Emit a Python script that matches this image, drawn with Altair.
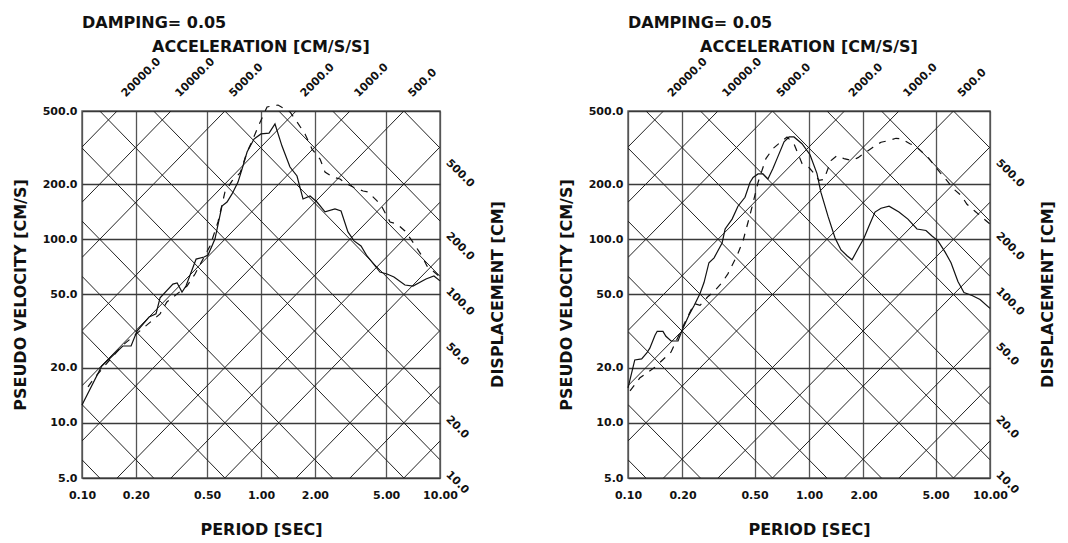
import math
import altair as alt
import pandas as pd

# ---------------- data ----------------
# Left panel: response spectrum (solid) and smoothed / target spectrum (dashed)
left_solid_T = [0.100, 0.129, 0.169, 0.188, 0.203, 0.237, 0.259, 0.273, 0.322, 0.340,
                0.362, 0.381, 0.434, 0.481, 0.506, 0.553, 0.605, 0.646, 0.689, 0.744,
                0.793, 0.836, 0.914, 1.000, 1.109, 1.197, 1.310, 1.452, 1.589, 1.717,
                1.879, 2.055, 2.278, 2.590, 2.800, 3.060, 3.310, 3.620, 3.910, 4.340,
                4.620, 5.060, 5.530, 6.370, 7.060, 8.350, 9.250, 10.0]
left_solid_V = [12.5, 20.4, 26.2, 26.2, 31.6, 37.7, 39.2, 47.9, 57.0, 57.8,
                51.6, 55.6, 78.0, 80.0, 82.1, 100.3, 151.7, 159.6, 176.6, 205.0,
                250.6, 299.0, 351.7, 375.0, 379.0, 424.7, 322.0, 247.6, 221.2, 165.7,
                172.1, 159.6, 141.0, 146.2, 142.6, 109.6, 98.0, 91.9, 81.1, 71.5,
                66.3, 64.7, 62.3, 56.3, 55.6, 60.7, 63.1, 59.3]
left_dash_T = [0.108, 0.118, 0.167, 0.273, 0.298, 0.386, 0.428, 0.519, 0.575, 0.629,
               0.689, 0.764, 0.836, 0.902, 0.962, 1.081, 1.245, 1.452, 1.589, 1.762,
               1.928, 2.137, 2.278, 2.525, 2.763, 3.02, 3.27, 3.72, 3.96, 4.45,
               4.74, 5.26, 5.75, 6.37, 6.98, 7.93, 8.46, 9.14, 10.0]
left_dash_V = [15.7, 17.7, 26.2, 39.2, 45.5, 55.6, 64.7, 91.9, 124.2, 181.0,
               208.0, 229.6, 299.0, 351.7, 409.0, 526.0, 539.0, 494.0, 435.6, 375.0,
               310.0, 273.7, 232.6, 218.2, 212.9, 200.0, 192.7, 183.2, 181.0, 161.8,
               150.0, 124.2, 121.0, 110.9, 98.0, 81.1, 71.5, 67.1, 62.3]

# Right panel
right_solid_T = [0.100, 0.105, 0.109, 0.119, 0.127, 0.132, 0.141, 0.145, 0.156, 0.162,
                 0.173, 0.189, 0.199, 0.217, 0.232, 0.250, 0.263, 0.280, 0.299, 0.331,
                 0.344, 0.376, 0.405, 0.443, 0.472, 0.491, 0.523, 0.557, 0.593, 0.632,
                 0.666, 0.728, 0.776, 0.826, 0.915, 1.013, 1.107, 1.164, 1.273, 1.393,
                 1.503, 1.622, 1.729, 1.866, 2.014, 2.145, 2.315, 2.50, 2.77, 3.14,
                 3.52, 3.95, 4.43, 4.78, 5.16, 5.64, 6.09, 6.65, 7.18, 7.96,
                 8.81, 10.0]
right_solid_V = [15.5, 18.9, 22.0, 22.3, 24.0, 25.5, 30.0, 31.5, 31.5, 29.6,
                 27.9, 27.9, 31.9, 38.5, 43.6, 50.6, 58.1, 74.5, 79.2, 95.5,
                 113.7, 128.8, 151.4, 169.4, 204.0, 217.0, 227.0, 227.0, 213.0, 243.0,
                 275.0, 340.0, 361.0, 361.0, 331.5, 289.0, 228.0, 180.0, 133.6, 101.6,
                 87.5, 81.3, 77.3, 88.7, 101.6, 118.0, 140.6, 147.6, 151.4, 140.6,
                 128.8, 113.7, 111.6, 104.2, 98.0, 85.4, 74.5, 58.8, 51.3, 49.4,
                 47.0, 42.0]
right_dash_T = [0.1026, 0.1165, 0.141, 0.173, 0.199, 0.232, 0.250, 0.277, 0.299, 0.331,
                0.357, 0.400, 0.432, 0.478, 0.523, 0.578, 0.632, 0.700, 0.756, 0.826,
                0.915, 1.0, 1.079, 1.136, 1.21, 1.323, 1.428, 1.561, 1.729, 1.866,
                2.118, 2.258, 2.50, 2.733, 3.025, 3.26, 3.61, 3.85, 4.54, 4.97,
                5.30, 5.71, 6.33, 6.92, 7.46, 8.26, 9.03, 10.0]
right_dash_V = [14.9, 17.6, 20.1, 24.3, 32.7, 44.7, 43.6, 48.8, 51.9, 58.1,
                65.0, 81.3, 98.0, 142.2, 204.0, 275.0, 311.8, 340.0, 361.0, 331.5,
                258.6, 246.0, 225.5, 209.2, 212.0, 268.5, 285.6, 275.0, 268.5, 278.5,
                304.0, 317.6, 338.0, 344.0, 355.0, 352.0, 331.5, 323.6, 280.0, 250.0,
                231.0, 212.0, 187.0, 173.6, 155.2, 142.2, 132.0, 121.0]

# Tick values and tripartite grid values
x_ticks = [0.1, 0.2, 0.5, 1, 2, 5, 10]
y_ticks = [5, 10, 20, 50, 100, 200, 500]
accel_grid = [5, 10, 20, 50, 100, 200, 500, 1000, 2000, 5000, 10000, 20000]
disp_grid = [0.1, 0.2, 0.5, 1, 2, 5, 10, 20, 50, 100, 200, 500]
accel_labels = [20000, 10000, 5000, 2000, 1000, 500]
disp_labels = [500, 200, 100, 50, 20, 10]

damping_text = "DAMPING= 0.05"
accel_title = "ACCELERATION [CM/S/S]"
disp_title = "DISPLACEMENT [CM]"
x_title = "PERIOD [SEC]"
y_title = "PSEUDO VELOCITY [CM/S]"

# ---------------- chart ----------------
TWO_PI = 2.0 * math.pi
X_DOMAIN = [0.1, 10.0]
Y_DOMAIN = [5.0, 500.0]
FONT = "DejaVu Sans"
INK = "#111111"


def make_panel(solid_T, solid_V, dash_T, dash_V, width, height):
    xs = alt.Scale(type="log", domain=X_DOMAIN, nice=False)
    ys = alt.Scale(type="log", domain=Y_DOMAIN, nice=False)

    x_axis = alt.Axis(values=x_ticks, format=".2f", title=x_title, grid=True,
                      gridColor="#555555", gridWidth=1.3, gridOpacity=1, ticks=False,
                      domain=False, labelFlush=False, labelOverlap=False, labelFont=FONT,
                      labelFontSize=11, labelFontWeight="bold", labelColor=INK,
                      labelPadding=11, titleFont=FONT, titleFontSize=16,
                      titleFontWeight="bold", titleColor=INK, titlePadding=21)
    y_axis = alt.Axis(values=y_ticks, format=".1f", title=y_title, grid=True,
                      gridColor="#3a3a3a", gridWidth=1.3, gridOpacity=1, ticks=False,
                      domain=False, labelFlush=False, labelOverlap=False, labelFont=FONT,
                      labelFontSize=11, labelFontWeight="bold", labelColor=INK,
                      labelPadding=5, titleFont=FONT, titleFontSize=16,
                      titleFontWeight="bold", titleColor=INK, titlePadding=14)
    X = alt.X("T:Q", scale=xs, axis=x_axis)
    Y = alt.Y("V:Q", scale=ys, axis=y_axis)

    rows = []
    for a in accel_grid:
        for t in X_DOMAIN:
            rows.append({"line": "A%g" % a, "T": t, "V": a * t / TWO_PI})
    for d in disp_grid:
        for t in X_DOMAIN:
            rows.append({"line": "D%g" % d, "T": t, "V": TWO_PI * d / t})
    diag = pd.DataFrame(rows)

    grid_layer = alt.Chart(diag).mark_line(clip=True, color="#222222", strokeWidth=1.0).encode(
        x=X, y=Y, detail="line:N")

    sdf = pd.DataFrame({"T": solid_T, "V": solid_V, "i": list(range(len(solid_T)))})
    ddf = pd.DataFrame({"T": dash_T, "V": dash_V, "i": list(range(len(dash_T)))})
    solid = alt.Chart(sdf).mark_line(color=INK, strokeWidth=1.2).encode(
        x=X, y=Y, order="i:Q")
    dashed = alt.Chart(ddf).mark_line(color=INK, strokeWidth=1.2, strokeDash=[7, 7]).encode(
        x=X, y=Y, order="i:Q")

    top_df = pd.DataFrame({
        "T": [TWO_PI * Y_DOMAIN[1] / a for a in accel_labels],
        "V": [Y_DOMAIN[1]] * len(accel_labels),
        "label": ["%.1f" % a for a in accel_labels],
    })
    top_labels = alt.Chart(top_df).mark_text(
        angle=315, align="left", baseline="bottom", dx=15.6, dy=-1.4,
        font=FONT, fontSize=11, fontWeight="bold", color=INK).encode(
        x=X, y=Y, text="label:N")

    right_df = pd.DataFrame({
        "T": [X_DOMAIN[1]] * len(disp_labels),
        "V": [TWO_PI * d / X_DOMAIN[1] for d in disp_labels],
        "label": ["%.1f" % d for d in disp_labels],
    })
    right_labels = alt.Chart(right_df).mark_text(
        angle=45, align="left", baseline="top", dx=14.8, dy=-2.1,
        font=FONT, fontSize=11, fontWeight="bold", color=INK).encode(
        x=X, y=Y, text="label:N")

    def title_text(txt, T, V, **kw):
        df = pd.DataFrame({"T": [T], "V": [V], "label": [txt]})
        return alt.Chart(df).mark_text(font=FONT, fontSize=16, fontWeight="bold",
                                       color=INK, **kw).encode(
            x=X, y=Y, text="label:N")

    damp = title_text(damping_text, X_DOMAIN[0], Y_DOMAIN[1], align="left",
                      baseline="middle", dy=-88)
    acc = title_text(accel_title, 1.0, Y_DOMAIN[1], align="center",
                     baseline="middle", dy=-64)
    disp = title_text(disp_title, X_DOMAIN[1], 50.0, align="center",
                      baseline="middle", angle=270, dy=58)

    return alt.layer(grid_layer, solid, dashed, top_labels, right_labels,
                     damp, acc, disp).properties(width=width, height=height)


left = make_panel(left_solid_T, left_solid_V, left_dash_T, left_dash_V, 358, 367)
right = make_panel(right_solid_T, right_solid_V, right_dash_T, right_dash_V, 362, 367)

chart = alt.hconcat(left, right, spacing=50).properties(
    padding={"left": 3, "top": 6, "right": 0, "bottom": 0},
    background="white",
).configure_view(stroke="#666666", strokeWidth=1.5)

chart.save("out.html", embed_options={"renderer": "svg", "actions": False})
